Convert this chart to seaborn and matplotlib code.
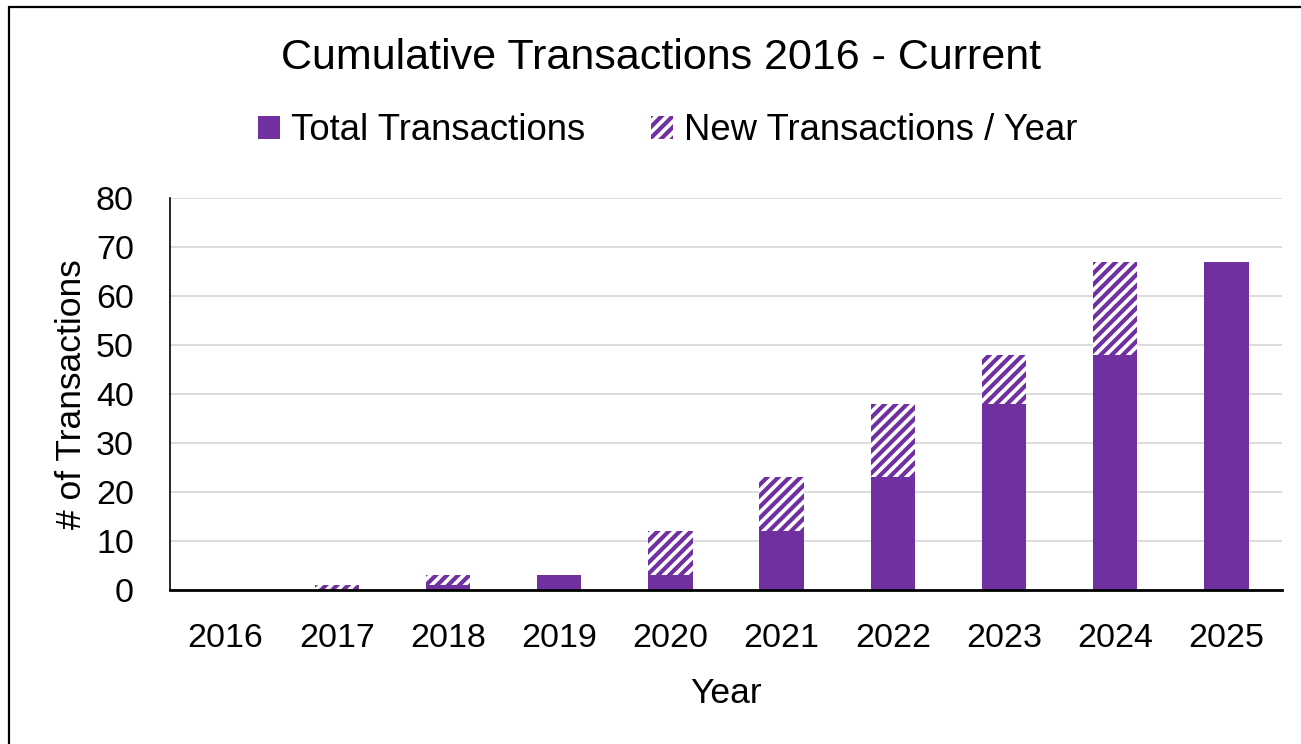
import pandas as pd
import seaborn as sns
import matplotlib.pyplot as plt
from matplotlib.patches import Patch
from matplotlib.lines import Line2D

sns.set_style("white")
plt.rcParams['font.family'] = ['Liberation Sans', 'DejaVu Sans']
plt.rcParams['hatch.linewidth'] = 3.0
plt.rcParams['text.color'] = 'black'
plt.rcParams['axes.labelcolor'] = 'black'
plt.rcParams['xtick.color'] = 'black'
plt.rcParams['ytick.color'] = 'black'

purple = "#7030A0"

years = ["2016", "2017", "2018", "2019", "2020", "2021", "2022", "2023", "2024", "2025"]
total_tx = [0, 0, 1, 3, 3, 12, 23, 38, 48, 67]
new_tx = [0, 1, 2, 0, 9, 11, 15, 10, 19, 0]

df = pd.DataFrame({"Year": years, "Total": total_tx, "New": new_tx})
df["Top"] = df["Total"] + df["New"]

fig = plt.figure(figsize=(13.01, 7.44), dpi=100)
ax = fig.add_axes([170/1301, 154/744, 1112/1301, 392/744])

# hatched part drawn as full stack height, solid totals on top of it
sns.barplot(data=df, x="Year", y="Top", ax=ax, color="white", width=0.4,
            edgecolor=purple, hatch="///", linewidth=0, saturation=1)
sns.barplot(data=df, x="Year", y="Total", ax=ax, color=purple, width=0.4,
            linewidth=0, saturation=1)

ax.set_ylim(0, 80)
ax.set_xlim(-0.5, 9.5)
ax.set_yticks(range(0, 81, 10))
ax.yaxis.grid(True, color="#D9D9D9", linewidth=1.3)
ax.set_axisbelow(True)
for s in ["top", "right"]:
    ax.spines[s].set_visible(False)
ax.spines["left"].set_color("black")
ax.spines["bottom"].set_color("black")
ax.spines["left"].set_linewidth(1.2)
ax.spines["bottom"].set_linewidth(2.0)
ax.tick_params(axis="both", length=0, labelsize=24.5)
ax.tick_params(axis="y", pad=26)
ax.tick_params(axis="x", pad=24)
ax.set_xlabel("Year", fontsize=25.5, labelpad=16)
ax.set_ylabel("# of Transactions", fontsize=25.5, labelpad=6)

fig.text(0.508, 0.922, "Cumulative Transactions 2016 - Current", ha="center", va="center", fontsize=31)

handles = [Patch(facecolor=purple, edgecolor=purple, linewidth=0, label="Total Transactions"),
           Patch(facecolor="white", edgecolor=purple, hatch="///", linewidth=0, label="New Transactions / Year")]
fig.legend(handles=handles, loc="center", bbox_to_anchor=(0.513, 0.824), ncol=2, frameon=False,
           fontsize=26.3, handlelength=0.6, handleheight=0.6, handletextpad=0.3, columnspacing=1.8)

# chart border (left and top edges visible)
fig.add_artist(Line2D([9/1301, 9/1301], [0, 1 - 7/744], transform=fig.transFigure, color="black", linewidth=1.6))
fig.add_artist(Line2D([9/1301, 1], [1 - 7/744, 1 - 7/744], transform=fig.transFigure, color="black", linewidth=1.6))

plt.savefig("out.png", dpi=100)
